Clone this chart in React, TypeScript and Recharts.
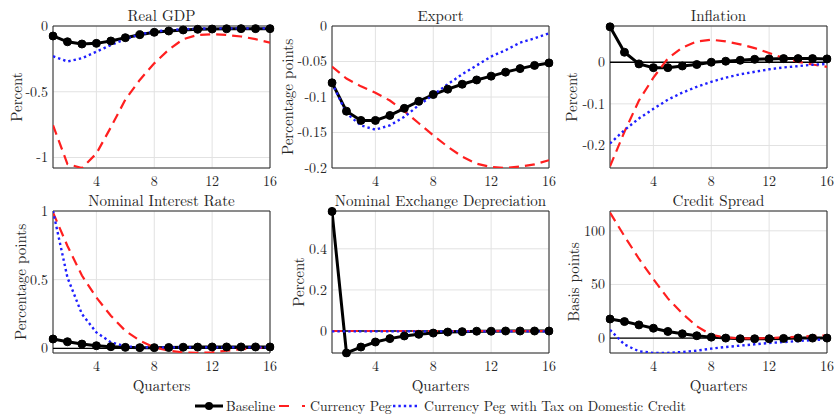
import React from 'react';
import { LineChart, Line, XAxis, YAxis, CartesianGrid, ReferenceLine, ReferenceArea } from 'recharts';

const quarters = [1, 2, 3, 4, 5, 6, 7, 8, 9, 10, 11, 12, 13, 14, 15, 16];
const xTicks = [4, 8, 12, 16];

// Real GDP
const gdpBaseline = [-0.076, -0.12, -0.137, -0.132, -0.114, -0.089, -0.066, -0.048, -0.038, -0.03, -0.025, -0.023, -0.021, -0.02, -0.02, -0.02];
const gdpPeg = [-0.754, -1.05, -1.08, -0.97, -0.77, -0.56, -0.41, -0.284, -0.18, -0.1, -0.068, -0.063, -0.068, -0.08, -0.1, -0.127];
const gdpPegTax = [-0.23, -0.27, -0.245, -0.195, -0.145, -0.1, -0.063, -0.043, -0.03, -0.025, -0.02, -0.018, -0.018, -0.018, -0.018, -0.018];

// Export
const exportBaseline = [-0.08, -0.12, -0.133, -0.133, -0.126, -0.116, -0.106, -0.0965, -0.089, -0.082, -0.076, -0.0706, -0.065, -0.06, -0.0555, -0.052];
const exportPeg = [-0.057, -0.074, -0.085, -0.094, -0.105, -0.12, -0.137, -0.154, -0.17, -0.184, -0.194, -0.1985, -0.2, -0.198, -0.195, -0.189];
const exportPegTax = [-0.08, -0.123, -0.14, -0.146, -0.14, -0.128, -0.1115, -0.097, -0.082, -0.068, -0.0555, -0.043, -0.034, -0.0235, -0.0174, -0.0104];

// Inflation
const inflBaseline = [0.085, 0.024, -0.004, -0.013, -0.013, -0.009, -0.0055, 0, 0.0024, 0.0047, 0.007, 0.008, 0.0087, 0.0087, 0.0087, 0.008];
const inflPeg = [-0.25, -0.167, -0.092, -0.037, 0.009, 0.035, 0.05, 0.054, 0.05, 0.043, 0.034, 0.022, 0.01, 0.001, -0.0055, -0.011];
const inflPegTax = [-0.195, -0.163, -0.135, -0.112, -0.09, -0.073, -0.059, -0.047, -0.037, -0.029, -0.023, -0.017, -0.0126, -0.0094, -0.006, -0.004];

// Nominal interest rate
const rateBaseline = [0.068, 0.048, 0.031, 0.019, 0.012, 0.007, 0.005, 0.005, 0.006, 0.008, 0.009, 0.01, 0.01, 0.01, 0.01, 0.01];
const ratePeg = [0.99, 0.745, 0.53, 0.37, 0.237, 0.128, 0.056, 0.007, -0.017, -0.029, -0.033, -0.029, -0.017, -0.007, 0.002, 0.007];
const ratePegTax = [1.0, 0.515, 0.25, 0.116, 0.044, 0.015, 0.007, 0.007, 0.007, 0.007, 0.007, 0.007, 0.007, 0.007, 0.007, 0.007];

// Nominal exchange depreciation
const fxBaseline = [0.582, -0.107, -0.078, -0.0535, -0.037, -0.024, -0.016, -0.01, -0.005, -0.003, -0.001, -0.001, 0, 0, 0, 0];
const fxPeg = [0, 0, 0, 0, 0, 0, 0, 0, 0, 0, 0, 0, 0, 0, 0, 0];
const fxPegTax = [-0.002, -0.002, -0.002, -0.002, -0.002, -0.002, -0.002, -0.002, -0.002, -0.002, -0.002, -0.002, -0.002, -0.002, -0.002, -0.002];

// Credit spread
const spreadBaseline = [17.8, 15.4, 12.3, 9.2, 6.2, 4, 2.2, 0.9, 0, -0.6, -0.6, -0.6, -0.3, 0, 0, 0];
const spreadPeg = [117, 95, 74, 55, 37, 23, 11, 3, 0.6, -0.3, -0.3, 0, 0.6, 1.2, 1.8, 2.5];
const spreadPegTax = [7.7, -6, -12.3, -13.8, -13.8, -13, -11.7, -9.8, -8.3, -7, -5.8, -4.6, -3.7, -2.8, -1.8, -1.2];

const FONT = '"Latin Modern Roman", "Liberation Serif", serif';
const TEXT = '#262626';
const PLOT_W = 217;
const PLOT_H = 142;
const PAD_L = 50;
const PAD_T = 12;
const PAD_R = 8;
const X_AXIS_H = 26;

interface PanelProps {
  title: string;
  yLabel: string;
  yLabelX: number;
  base: number[];
  peg: number[];
  tax: number[];
  domain: [number, number];
  ticks: number[];
  zeroLine?: boolean;
  xLabel?: boolean;
  left: number;
  top: number;
}

const Panel: React.FC<PanelProps> = ({ title, yLabel, yLabelX, base, peg, tax, domain, ticks, zeroLine, xLabel, left, top }) => {
  const rows = quarters.map((q, i) => ({ q, base: base[i], peg: peg[i], tax: tax[i] }));
  const tickStyle = { fontFamily: FONT, fontSize: 14, fill: TEXT };

  return (
    <>
      <div style={{ position: 'absolute', left: left - PAD_L, top: top - PAD_T }}>
        <LineChart
          width={PAD_L + PLOT_W + PAD_R}
          height={PAD_T + PLOT_H + X_AXIS_H}
          data={rows}
          margin={{ top: PAD_T, right: PAD_R, bottom: 0, left: 14 }}
        >
          <CartesianGrid stroke="#e2e2e2" strokeWidth={1} />
          <XAxis
            dataKey="q"
            type="number"
            domain={[1, 16]}
            ticks={xTicks}
            allowDataOverflow
            tickLine={false}
            axisLine={false}
            tickSize={6}
            tickMargin={2}
            height={X_AXIS_H}
            tick={tickStyle}
          />
          <YAxis
            type="number"
            domain={domain}
            ticks={ticks}
            allowDataOverflow
            width={36}
            tickLine={false}
            axisLine={false}
            tickSize={3}
            tickMargin={2}
            tick={tickStyle}
          />
          <ReferenceArea x1={1} x2={16} y1={domain[0]} y2={domain[1]} fill="none" stroke={TEXT} strokeWidth={1} />
          {zeroLine && <ReferenceLine y={0} stroke="#000" strokeWidth={1.3} />}
          <Line
            dataKey="base"
            type="linear"
            stroke="#000"
            strokeWidth={3}
            dot={{ r: 4, fill: '#000', stroke: '#000', strokeWidth: 1, clipDot: false }}
            isAnimationActive={false}
          />
          <Line dataKey="peg" type="linear" stroke="#ff1f1f" strokeWidth={2.2} strokeDasharray="10 6" dot={false} isAnimationActive={false} />
          <Line dataKey="tax" type="linear" stroke="#1f1fff" strokeWidth={2.4} strokeDasharray="2.4 3" dot={false} isAnimationActive={false} />
        </LineChart>
      </div>
      <div
        style={{
          position: 'absolute', left: left, top: top - 19, width: PLOT_W, textAlign: 'center',
          fontFamily: FONT, fontSize: 15, color: TEXT, lineHeight: '15px', whiteSpace: 'nowrap',
        }}
      >
        {title}
      </div>
      <div style={{ position: 'absolute', left: yLabelX, top: top + PLOT_H / 2, width: 0, height: 0 }}>
        <span
          style={{
            position: 'absolute', left: 0, top: 0, transform: 'translate(-50%, -50%) rotate(-90deg)',
            fontFamily: FONT, fontSize: 15, color: TEXT, whiteSpace: 'nowrap', lineHeight: '15px',
          }}
        >
          {yLabel}
        </span>
      </div>
      {xLabel && (
        <div
          style={{
            position: 'absolute', left: left, top: top + PLOT_H + 24, width: PLOT_W, textAlign: 'center',
            fontFamily: FONT, fontSize: 15, color: TEXT, lineHeight: '15px',
          }}
        >
          Quarters
        </div>
      )}
    </>
  );
};

const LegendItem: React.FC<{ left: number; kind: 'base' | 'peg' | 'tax'; label: string }> = ({ left, kind, label }) => (
  <div style={{ position: 'absolute', left, top: 399, height: 14, display: 'flex', alignItems: 'center', whiteSpace: 'nowrap' }}>
    <svg width={28} height={12} style={{ marginRight: 3 }}>
      {kind === 'base' && (
        <>
          <line x1={0} y1={6} x2={28} y2={6} stroke="#000" strokeWidth={3} />
          <circle cx={14} cy={6} r={4} fill="#000" />
        </>
      )}
      {kind === 'peg' && <line x1={0} y1={6} x2={26} y2={6} stroke="#ff1f1f" strokeWidth={2.2} strokeDasharray="10 13" />}
      {kind === 'tax' && <line x1={0} y1={6} x2={26} y2={6} stroke="#1f1fff" strokeWidth={2.4} strokeDasharray="2.4 3" />}
    </svg>
    <span style={{ fontFamily: FONT, fontSize: 13.7, lineHeight: '14px', color: TEXT }}>{label}</span>
  </div>
);

const App: React.FC = () => (
  <div style={{ position: 'absolute', left: 0, top: 0, width: 835, height: 416, background: '#fff', overflow: 'hidden' }}>
    <Panel title="Real GDP" yLabel="Percent" yLabelX={15} base={gdpBaseline} peg={gdpPeg} tax={gdpPegTax}
      domain={[-1.08, 0]} ticks={[-1, -0.5, 0]} left={53} top={26} />
    <Panel title="Export" yLabel="Percentage points" yLabelX={286} base={exportBaseline} peg={exportPeg} tax={exportPegTax}
      domain={[-0.2, 0]} ticks={[-0.2, -0.15, -0.1, -0.05, 0]} left={332} top={26} />
    <Panel title="Inflation" yLabel="Percent" yLabelX={570} base={inflBaseline} peg={inflPeg} tax={inflPegTax}
      domain={[-0.254, 0.087]} ticks={[-0.2, -0.1, 0]} zeroLine left={610} top={26} />
    <Panel title="Nominal Interest Rate" yLabel="Percentage points" yLabelX={19} base={rateBaseline} peg={ratePeg} tax={ratePegTax}
      domain={[-0.034, 1]} ticks={[0, 0.5, 1]} zeroLine xLabel left={53} top={211} />
    <Panel title="Nominal Exchange Depreciation" yLabel="Percent" yLabelX={297} base={fxBaseline} peg={fxPeg} tax={fxPegTax}
      domain={[-0.107, 0.584]} ticks={[0, 0.2, 0.4]} zeroLine xLabel left={332} top={211} />
    <Panel title="Credit Spread" yLabel="Basis points" yLabelX={572} base={spreadBaseline} peg={spreadPeg} tax={spreadPegTax}
      domain={[-13.9, 118.5]} ticks={[0, 50, 100]} zeroLine xLabel left={610} top={211} />
    <LegendItem left={195} kind="base" label="Baseline" />
    <LegendItem left={279} kind="peg" label="Currency Peg" />
    <LegendItem left={393} kind="tax" label="Currency Peg with Tax on Domestic Credit" />
  </div>
);

export default App;
